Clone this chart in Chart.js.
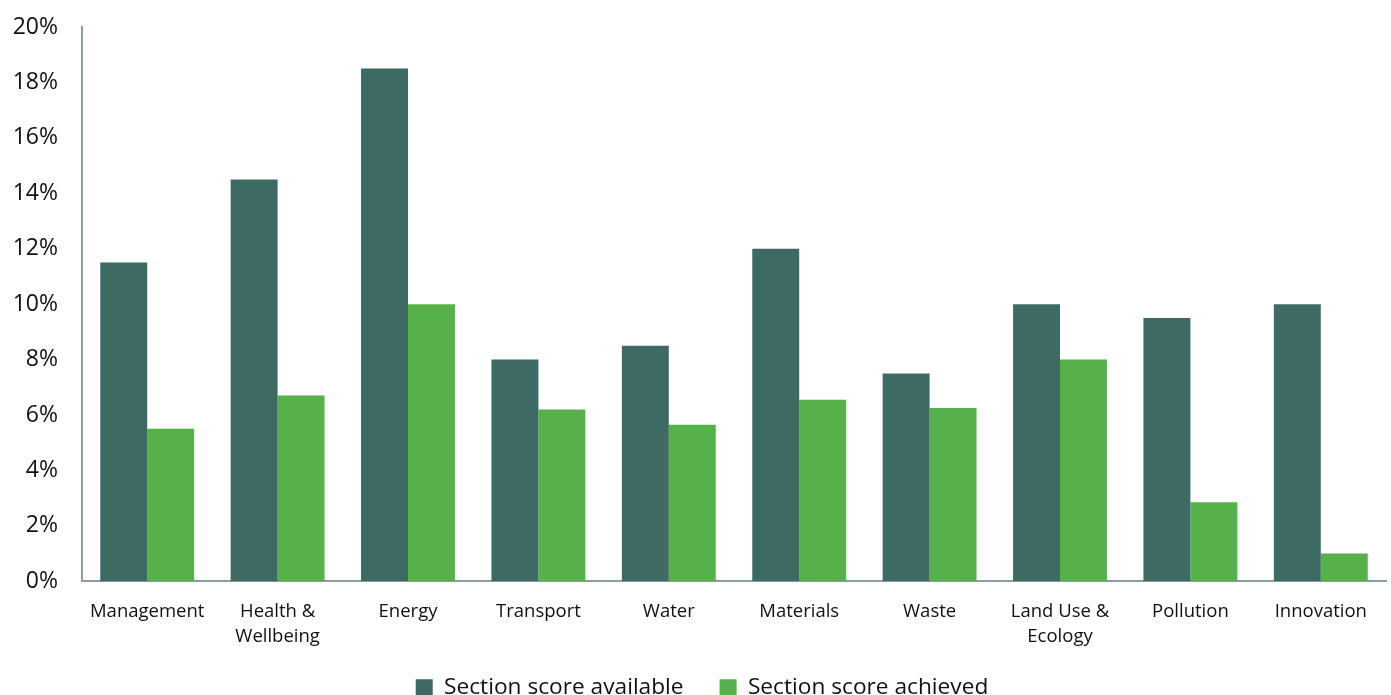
<!DOCTYPE html>
<html>
<head>
<meta charset="utf-8">
<script src="https://cdn.jsdelivr.net/npm/chart.js@4"></script>
<style>
  html, body { margin: 0; padding: 0; background: #fff; }
  #wrap { width: 1391px; height: 695px; }
</style>
</head>
<body>
<div id="wrap"><canvas id="scoreChart"></canvas></div>
<script>
// categories and values (percent of total score)
const categories = [
    'Management', ['Health &', 'Wellbeing'], 'Energy', 'Transport', 'Water',
    'Materials', 'Waste', ['Land Use &', 'Ecology'], 'Pollution', 'Innovation'
];
const scoreAvailable = [11.5, 14.5, 18.5, 8, 8.5, 12, 7.5, 10, 9.5, 10];
const scoreAchieved = [5.5, 6.7, 10, 6.2, 5.65, 6.55, 6.25, 8, 2.85, 1];
const yTicks = [0, 2, 4, 6, 8, 10, 12, 14, 16, 18, 20];

Chart.defaults.font.family = "'Open Sans', 'Liberation Sans', sans-serif";
Chart.defaults.color = '#111';

// nudge the legend a little after layout
const legendShift = {
    id: 'legendShift',
    afterLayout(chart) {
        chart.legend.top -= 11;
        chart.legend.bottom -= 11;
        chart.legend.left += 9;
        chart.legend.right += 9;
    }
};

const ctx = document.getElementById('scoreChart').getContext('2d');

const scoreChart = new Chart(ctx, {
    type: 'bar',
    data: {
        labels: categories,
        datasets: [{
            label: 'Section score available',
            data: scoreAvailable,
            backgroundColor: '#3e6a64',
            barPercentage: 1,
            categoryPercentage: 0.72
        }, {
            label: 'Section score achieved',
            data: scoreAchieved,
            backgroundColor: '#57b14a',
            barPercentage: 1,
            categoryPercentage: 0.72
        }]
    },
    plugins: [legendShift],
    options: {
        responsive: true,
        maintainAspectRatio: false,
        animation: false,
        layout: {
            padding: { top: 27, right: 5, left: 0, bottom: -25 }
        },
        plugins: {
            tooltip: { enabled: false },
            legend: {
                position: 'bottom',
                labels: {
                    font: { size: 22.7 },
                    boxWidth: 17,
                    boxHeight: 17,
                    padding: 36
                }
            }
        },
        scales: {
            x: {
                grid: { display: false, drawTicks: false },
                border: { color: '#8e9c9c', width: 2 },
                ticks: { font: { size: 18.5, lineHeight: 1.4 }, padding: 17, maxRotation: 0, autoSkip: false },
                afterFit: function (scale) { scale.height = 70; }
            },
            y: {
                min: 0,
                max: 20,
                grid: { display: false, drawTicks: false },
                border: { color: '#8e9c9c', width: 2 },
                afterBuildTicks: function (scale) {
                    scale.ticks = yTicks.map(v => ({ value: v }));
                },
                ticks: {
                    font: { size: 23 },
                    padding: 24,
                    callback: v => v + '%'
                },
                afterFit: function (scale) {
                    scale.width = 82;
                    scale.paddingTop = 0;
                    scale.paddingBottom = 0;
                }
            }
        }
    }
});
</script>
</body>
</html>
